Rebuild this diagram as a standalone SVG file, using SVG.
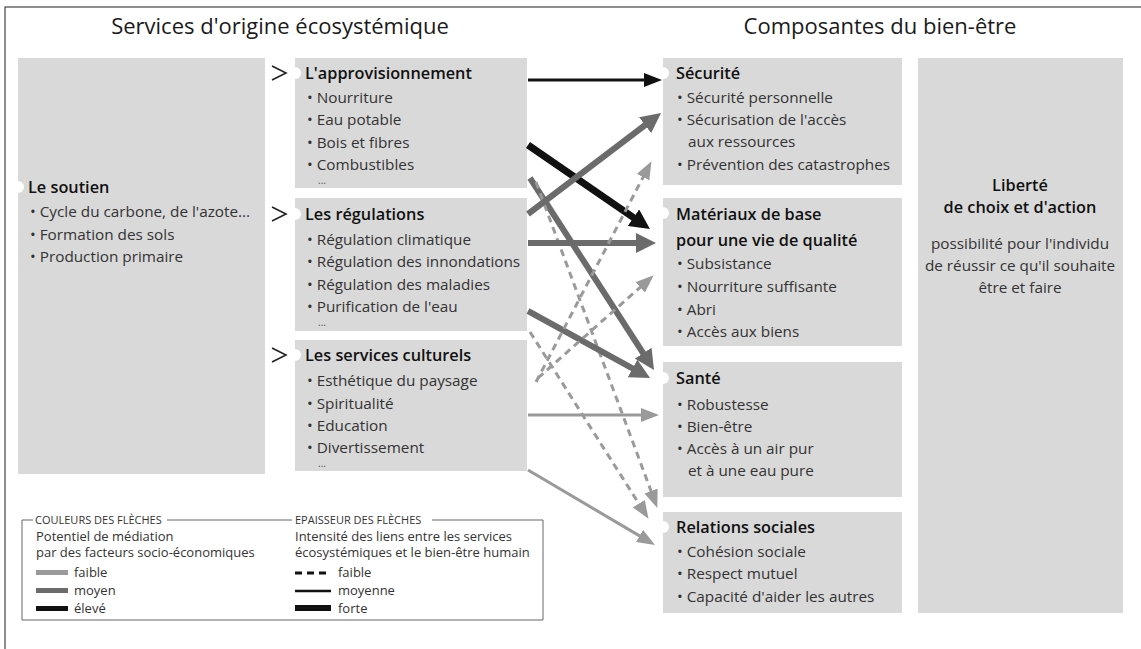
<svg xmlns="http://www.w3.org/2000/svg" width="1141" height="649" viewBox="0 0 1141 649">
<style>
text{font-family:"Open Sans","Noto Sans","DejaVu Sans",sans-serif}
.bg{fill:#fff}
.frame{fill:none;stroke:#444;stroke-width:1.2}
.box{fill:#d9d9d9}
.notch{fill:#fff}
.chev{fill:none;stroke:#222;stroke-width:1.6}
.t{font-size:22px;fill:#1a1a1a}
.h{font-size:16.3px;font-weight:600;fill:#111}
.b{font-size:15.3px;fill:#333}
.d{font-size:10px;fill:#555}
.lh{font-size:11px;fill:#333}
.lg{font-size:13px;fill:#333}
.lgl{fill:none;stroke:#666;stroke-width:1}
.k{stroke:#111}
.m{stroke:#6b6b6b}
.l{stroke:#9a9a9a}
.w3{stroke-width:3}
.w6{stroke-width:6}
.w7{stroke-width:7}
.dash{stroke-dasharray:7 5}
</style>
<defs>
<marker id="hk" markerUnits="userSpaceOnUse" markerWidth="18" markerHeight="14" refX="1" refY="7" orient="auto"><path d="M0,0 L18,7 L0,14 z" fill="#111"/></marker>
<marker id="hkL" markerUnits="userSpaceOnUse" markerWidth="20" markerHeight="20" refX="1" refY="10" orient="auto"><path d="M0,0 L20,10 L0,20 z" fill="#111"/></marker>
<marker id="hmL" markerUnits="userSpaceOnUse" markerWidth="20" markerHeight="20" refX="1" refY="10" orient="auto"><path d="M0,0 L20,10 L0,20 z" fill="#6b6b6b"/></marker>
<marker id="hl" markerUnits="userSpaceOnUse" markerWidth="18" markerHeight="14" refX="1" refY="7" orient="auto"><path d="M0,0 L18,7 L0,14 z" fill="#9a9a9a"/></marker>
</defs>
<rect class="bg" x="0" y="0" width="1141" height="649"/>
<rect class="frame" x="5" y="7" width="1150" height="660"/>

<text class="t" x="280" y="34" text-anchor="middle">Services d'origine écosystémique</text>
<text class="t" x="880" y="34" text-anchor="middle">Composantes du bien-être</text>

<g id="soutien">
<rect class="box" x="18" y="58" width="247" height="416"/>
<circle class="notch" cx="18" cy="187" r="6"/>
<text class="h" x="28" y="193">Le soutien</text>
<text class="b" x="30" y="217">• Cycle du carbone, de l'azote...</text>
<text class="b" x="30" y="240">• Formation des sols</text>
<text class="b" x="30" y="262">• Production primaire</text>
</g>

<g id="approvisionnement">
<polyline class="chev" points="272,66 286,73 272,80"/>
<rect class="box" x="295" y="58" width="232" height="130"/>
<circle class="notch" cx="295" cy="73" r="6"/>
<text class="h" x="305" y="79">L'approvisionnement</text>
<text class="b" x="307" y="103">• Nourriture</text>
<text class="b" x="307" y="125">• Eau potable</text>
<text class="b" x="307" y="148">• Bois et fibres</text>
<text class="b" x="307" y="170">• Combustibles</text>
<text class="d" x="318" y="184">...</text>
</g>

<g id="regulations">
<polyline class="chev" points="272,207 286,214 272,221"/>
<rect class="box" x="295" y="198" width="232" height="133"/>
<circle class="notch" cx="295" cy="214" r="6"/>
<text class="h" x="305" y="220">Les régulations</text>
<text class="b" x="307" y="245">• Régulation climatique</text>
<text class="b" x="307" y="267">• Régulation des innondations</text>
<text class="b" x="307" y="290">• Régulation des maladies</text>
<text class="b" x="307" y="312">• Purification de l'eau</text>
<text class="d" x="318" y="326">...</text>
</g>

<g id="culturels">
<polyline class="chev" points="272,348 286,355 272,362"/>
<rect class="box" x="295" y="340" width="232" height="131"/>
<circle class="notch" cx="295" cy="355" r="6"/>
<text class="h" x="305" y="361">Les services culturels</text>
<text class="b" x="307" y="386">• Esthétique du paysage</text>
<text class="b" x="307" y="409">• Spiritualité</text>
<text class="b" x="307" y="431">• Education</text>
<text class="b" x="307" y="453">• Divertissement</text>
<text class="d" x="318" y="467">...</text>
</g>

<g id="securite">
<rect class="box" x="663" y="58" width="239" height="127"/>
<circle class="notch" cx="663" cy="73" r="6"/>
<text class="h" x="676" y="79">Sécurité</text>
<text class="b" x="677" y="103">• Sécurité personnelle</text>
<text class="b" x="677" y="125">• Sécurisation de l'accès</text>
<text class="b" x="688" y="147">aux ressources</text>
<text class="b" x="677" y="170">• Prévention des catastrophes</text>
</g>

<g id="materiaux">
<rect class="box" x="663" y="198" width="239" height="148"/>
<circle class="notch" cx="663" cy="213" r="6"/>
<text class="h" x="676" y="220">Matériaux de base</text>
<text class="h" x="676" y="246">pour une vie de qualité</text>
<text class="b" x="677" y="269">• Subsistance</text>
<text class="b" x="677" y="292">• Nourriture suffisante</text>
<text class="b" x="677" y="315">• Abri</text>
<text class="b" x="677" y="337">• Accès aux biens</text>
</g>

<g id="sante">
<rect class="box" x="663" y="362" width="239" height="135"/>
<circle class="notch" cx="663" cy="378" r="6"/>
<text class="h" x="676" y="384">Santé</text>
<text class="b" x="677" y="410">• Robustesse</text>
<text class="b" x="677" y="432">• Bien-être</text>
<text class="b" x="677" y="454">• Accès à un air pur</text>
<text class="b" x="688" y="476">et à une eau pure</text>
</g>

<g id="relations">
<rect class="box" x="663" y="512" width="239" height="101"/>
<circle class="notch" cx="663" cy="527" r="6"/>
<text class="h" x="676" y="533">Relations sociales</text>
<text class="b" x="677" y="557">• Cohésion sociale</text>
<text class="b" x="677" y="579">• Respect mutuel</text>
<text class="b" x="677" y="602">• Capacité d'aider les autres</text>
</g>

<g id="liberte">
<rect class="box" x="918" y="58" width="205" height="555"/>
<text class="h" x="1020" y="191" text-anchor="middle">Liberté</text>
<text class="h" x="1020" y="213" text-anchor="middle">de choix et d'action</text>
<text class="b" x="1020" y="249" text-anchor="middle">possibilité pour l'individu</text>
<text class="b" x="1020" y="271" text-anchor="middle">de réussir ce qu'il souhaite</text>
<text class="b" x="1020" y="293" text-anchor="middle">être et faire</text>
</g>

<g id="connectors" fill="none">
<line class="k w3" x1="528" y1="80" x2="645" y2="80" marker-end="url(#hk)"/>
<line class="k w7" x1="528" y1="145" x2="634.3" y2="218.2" marker-end="url(#hkL)"/>
<line class="m w6" x1="530" y1="178" x2="643.7" y2="354" marker-end="url(#hmL)"/>
<line class="l w3 dash" x1="536" y1="182" x2="651.4" y2="492" marker-end="url(#hl)"/>
<line class="m w6" x1="528" y1="214" x2="645.9" y2="124.5" marker-end="url(#hmL)"/>
<line class="m w6" x1="528" y1="243" x2="637" y2="243" marker-end="url(#hmL)"/>
<line class="m w6" x1="528" y1="311" x2="633.4" y2="368.9" marker-end="url(#hmL)"/>
<line class="l w3 dash" x1="530" y1="332" x2="639.4" y2="504.5" marker-end="url(#hl)"/>
<line class="l w3 dash" x1="536" y1="382" x2="643.6" y2="176.2" marker-end="url(#hl)"/>
<line class="l w3 dash" x1="538" y1="378" x2="641" y2="286.6" marker-end="url(#hl)"/>
<line class="l w3" x1="528" y1="415" x2="642" y2="415" marker-end="url(#hl)"/>
<line class="l w3" x1="528" y1="470" x2="640.4" y2="536.4" marker-end="url(#hl)"/>
</g>

<g id="legend">
<path class="lgl" d="M33,520 H22 V620 H543 V520 H432 M167,520 H292"/>
<text class="lh" x="35" y="524">COULEURS DES FLÈCHES</text>
<text class="lh" x="295" y="524">EPAISSEUR DES FLÈCHES</text>
<text class="lg" x="36" y="541">Potentiel de médiation</text>
<text class="lg" x="36" y="557">par des facteurs socio-économiques</text>
<rect x="36" y="570" width="32" height="5" fill="#9a9a9a"/>
<rect x="36" y="588" width="32" height="5" fill="#6b6b6b"/>
<rect x="36" y="606" width="32" height="5" fill="#111"/>
<text class="lg" x="74" y="577">faible</text>
<text class="lg" x="74" y="595">moyen</text>
<text class="lg" x="74" y="613">élevé</text>
<text class="lg" x="295" y="541">Intensité des liens entre les services</text>
<text class="lg" x="295" y="557">écosystémiques et le bien-être humain</text>
<line x1="295" y1="573" x2="331" y2="573" stroke="#111" stroke-width="3" stroke-dasharray="7 5"/>
<line x1="295" y1="591" x2="331" y2="591" stroke="#111" stroke-width="2.5"/>
<rect x="295" y="605" width="36" height="6" fill="#111"/>
<text class="lg" x="338" y="577">faible</text>
<text class="lg" x="338" y="595">moyenne</text>
<text class="lg" x="338" y="613">forte</text>
</g>
</svg>
